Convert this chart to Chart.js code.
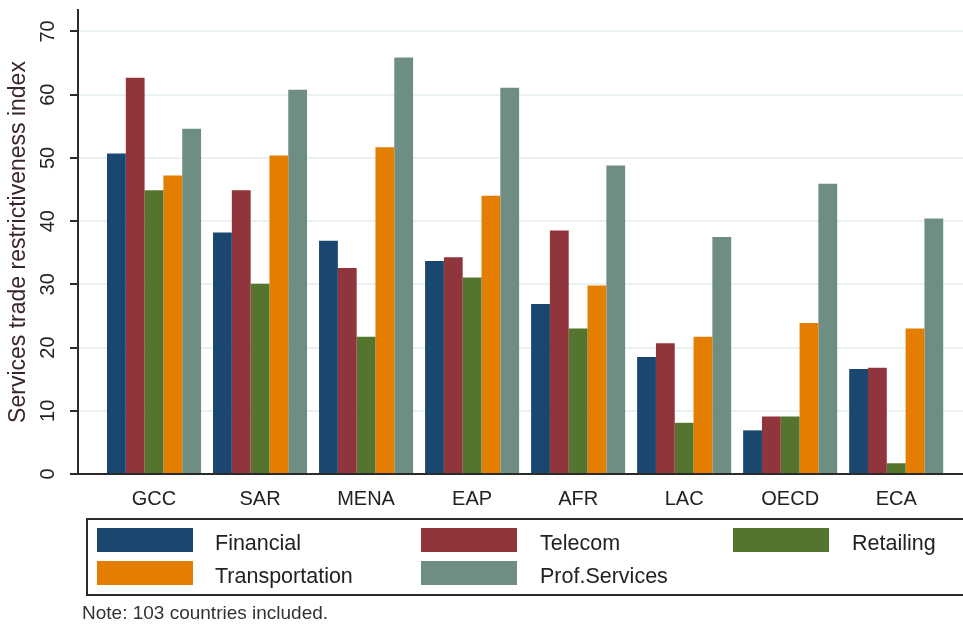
<!DOCTYPE html>
<html>
<head>
<meta charset="utf-8">
<script src="https://cdn.jsdelivr.net/npm/chart.js@4.4.1/dist/chart.umd.min.js"></script>
<style>
  html, body { margin: 0; padding: 0; background: #ffffff; }
  #wrap { position: relative; width: 963px; height: 625px; }
  canvas { display: block; }
</style>
</head>
<body>
<div id="wrap"><canvas id="c" width="963" height="625"></canvas></div>
<script>
// ---- data ----
const categories = ['GCC', 'SAR', 'MENA', 'EAP', 'AFR', 'LAC', 'OECD', 'ECA'];
const financial      = [50.7, 38.2, 36.9, 33.7, 26.9, 18.5, 6.9, 16.6];
const telecom        = [62.7, 44.9, 32.6, 34.3, 38.5, 20.7, 9.1, 16.8];
const retailing      = [44.9, 30.1, 21.7, 31.1, 23.0, 8.1, 9.1, 1.7];
const transportation = [47.2, 50.4, 51.7, 44.0, 29.8, 21.7, 23.9, 23.0];
const profServices   = [54.6, 60.8, 65.9, 61.1, 48.8, 37.5, 45.9, 40.4];
const yTicks = [0, 10, 20, 30, 40, 50, 60, 70];
const seriesNames = ['Financial', 'Telecom', 'Retailing', 'Transportation', 'Prof.Services'];
const seriesColors = ['#1a476f', '#90353b', '#55752f', '#e37e00', '#6e8e84'];
const yTitle = 'Services trade restrictiveness index';
const noteText = 'Note: 103 countries included.';

const FONT = "'Liberation Sans', Arial, sans-serif";
const seriesValues = [financial, telecom, retailing, transportation, profServices];

const datasets = seriesNames.map((name, s) => ({
  label: name,
  data: categories.map((c, i) => ({ x: i, y: seriesValues[s][i] })),
  backgroundColor: seriesColors[s],
  borderWidth: 0
}));

// custom legend box + note (Stata-style grid legend)
const stataLegend = {
  id: 'stataLegend',
  afterDraw(chart) {
    const ctx = chart.ctx;
    ctx.save();
    ctx.strokeStyle = '#2b2b2b';
    ctx.lineWidth = 2;
    ctx.strokeRect(87, 519, 900, 76);
    const swX = [97, 421, 733];
    const lbX = [215, 540, 852];
    const rowY = [528, 561];
    ctx.font = '21.5px ' + FONT;
    ctx.textBaseline = 'middle';
    ctx.textAlign = 'left';
    chart.data.datasets.forEach((ds, i) => {
      const col = i % 3, row = Math.floor(i / 3);
      ctx.fillStyle = ds.backgroundColor;
      ctx.fillRect(swX[col], rowY[row], 96, 24);
      ctx.fillStyle = '#222';
      ctx.fillText(ds.label, lbX[col], rowY[row] + 16);
    });
    ctx.font = '19px ' + FONT;
    ctx.fillStyle = '#333';
    ctx.fillText(noteText, 82, 614);
    ctx.restore();
  }
};

new Chart(document.getElementById('c'), {
  type: 'bar',
  data: { datasets },
  options: {
    responsive: false,
    animation: false,
    layout: { padding: { top: 10, left: 0, right: 0, bottom: 111 } },
    categoryPercentage: 0.887,
    barPercentage: 1.0,
    plugins: {
      legend: { display: false },
      tooltip: { enabled: false }
    },
    scales: {
      x: {
        type: 'linear',
        min: -0.717,
        max: 7.63,
        offset: false,
        afterBuildTicks: (scale) => { scale.ticks = categories.map((c, i) => ({ value: i })); },
        afterFit: (scale) => { scale.height = 40; scale.paddingLeft = 0; scale.paddingRight = 0; },
        grid: { display: false, offset: false },
        border: { display: true, color: '#2b2b2b', width: 2 },
        ticks: {
          autoSkip: false,
          maxRotation: 0,
          minRotation: 0,
          padding: 5,
          color: '#222',
          font: { family: FONT, size: 20 },
          callback: (v) => categories[v]
        }
      },
      y: {
        min: 0,
        max: 73.4,
        afterBuildTicks: (scale) => { scale.ticks = yTicks.map(v => ({ value: v })); },
        afterFit: (scale) => { scale.width = 78; scale.paddingTop = 0; scale.paddingBottom = 0; },
        grid: { color: '#e9f1f2', lineWidth: 2, tickColor: '#2b2b2b', tickLength: 8, tickWidth: 2 },
        border: { display: true, color: '#2b2b2b', width: 2 },
        ticks: {
          minRotation: 90,
          maxRotation: 90,
          crossAlign: 'center',
          padding: 10,
          color: '#222',
          font: { family: FONT, size: 20 }
        },
        title: {
          display: true,
          text: yTitle,
          color: '#3a2430',
          font: { family: FONT, size: 23 },
          padding: { top: 5, bottom: 0 }
        }
      }
    }
  },
  plugins: [stataLegend]
});
</script>
</body>
</html>
